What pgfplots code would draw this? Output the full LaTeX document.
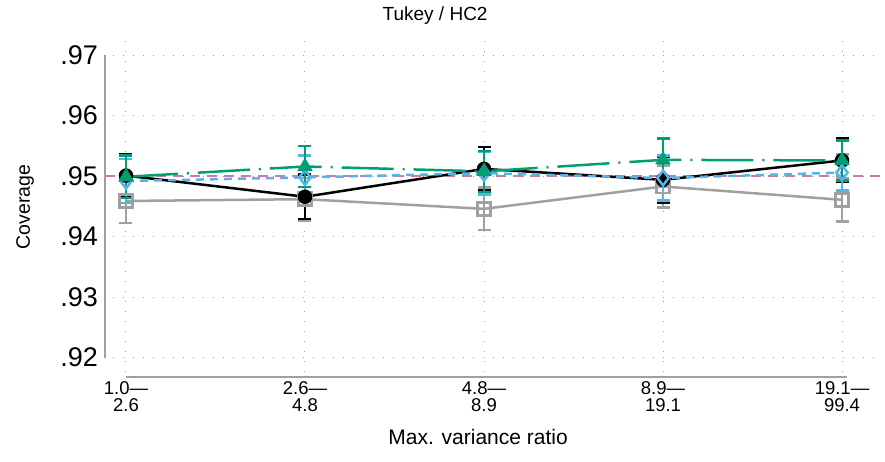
\documentclass[border=0pt]{standalone}
\usepackage{pgfplots}
\pgfplotsset{compat=1.18}
\usepackage{fontspec}
\setmainfont{Liberation Sans}
\definecolor{cgray}{HTML}{A0A0A0}
\definecolor{cgreen}{HTML}{009E73}
\definecolor{cblue}{HTML}{56B4E9}
\definecolor{cpink}{HTML}{CC79A7}
\begin{document}
\begin{tikzpicture}
\path[use as bounding box] (-113pt,-89pt) rectangle (772pt,372pt);
\begin{axis}[
  scale only axis, width=767pt, height=334pt,
  at={(0,0)}, anchor=south west,
  xmin=0.9274, xmax=5.2123, ymin=0.917636, ymax=0.97284,
  clip=false,
  axis line style={draw=none},
  tick style={draw=none},
  xtick={1,2,3,4,5},
  xticklabels={{1.0—\\2.6},{2.6—\\4.8},{4.8—\\8.9},{8.9—\\19.1},{19.1—\\99.4}},
  xticklabel style={align=center, anchor=north, inner sep=0pt, yshift=-9pt, font=\fontsize{18.5}{17}\selectfont},
  ytick={0.92,0.93,0.94,0.95,0.96,0.97},
  yticklabels={.92,.93,.94,.95,.96,.97},
  yticklabel style={anchor=east, inner sep=0pt, xshift=-15pt, font=\fontsize{27}{27}\selectfont},
  grid=major,
  grid style={cgray, line width=1pt, dash pattern=on 1pt off 9pt},
  title={Tukey / HC2},
  title style={at={(axis description cs:0.42,1.055)}, anchor=base, yshift=-7pt, font=\fontsize{19}{19}\selectfont},
  ylabel={Coverage},
  ylabel style={at={(axis description cs:-0.1147,0.494)}, anchor=center, rotate=0, font=\fontsize{19.5}{19.5}\selectfont},
  xlabel={Max. variance ratio},
  xlabel style={at={(axis description cs:0.476,-0.1946)}, anchor=center, font=\fontsize{21}{21}\selectfont},
  error bars/y dir=both, error bars/y explicit,
]
% axis lines
\draw[cgray, line width=2.5pt] ([xshift=-8pt]axis cs:0.9274,0.92) -- ([xshift=-8pt]axis cs:0.9274,0.97);
\draw[cgray, line width=2.5pt] (axis cs:1,0.916809) -- (axis cs:5.03,0.916809);
% reference line
\addplot[cpink, line width=2pt, dash pattern=on 10pt off 7pt, no markers, forget plot]
  coordinates {(0.8827,0.95) (5.2123,0.95)};
% gray
\addplot[cgray, line width=2.5pt, mark=square, mark size=6.5pt, mark options={solid, line width=2.5pt},
  error bars/.cd, error bar style={line width=2.5pt, solid}, error mark options={rotate=90, mark size=6.5pt, line width=2.5pt}]
  coordinates {(1,0.9459) +- (0,0.0036) (2,0.9462) +- (0,0.0035) (3,0.9446) +- (0,0.0035) (4,0.9483) +- (0,0.0035) (5,0.9461) +- (0,0.0036)};
% black
\addplot[black, line width=2.5pt, mark=*, mark size=6pt, mark options={solid},
  error bars/.cd, error bar style={line width=2.5pt, solid}, error mark options={rotate=90, mark size=6.5pt, line width=2.5pt}]
  coordinates {(1,0.9501) +- (0,0.0035) (2,0.9466) +- (0,0.0037) (3,0.9512) +- (0,0.0036) (4,0.9494) +- (0,0.0038) (5,0.9526) +- (0,0.0036)};
% blue
\addplot[cblue, line width=2.5pt, dash pattern=on 8pt off 6pt, mark=diamond, mark size=7.5pt, mark options={solid, line width=2.5pt},
  error bars/.cd, error bar style={line width=2.5pt, solid}, error mark options={rotate=90, mark size=6.5pt, line width=2.5pt}]
  coordinates {(1,0.9492) +- (0,0.0036) (2,0.9498) +- (0,0.0036) (3,0.9505) +- (0,0.0035) (4,0.9497) +- (0,0.0037) (5,0.9506) +- (0,0.0030)};
% green
\addplot[cgreen, line width=2.5pt, dash pattern=on 52pt off 9pt on 2pt off 9pt, mark=triangle*, mark size=6.5pt, mark options={solid},
  error bars/.cd, error bar style={line width=2.5pt, solid}, error mark options={rotate=90, mark size=6.5pt, line width=2.5pt}]
  coordinates {(1,0.9499) +- (0,0.0035) (2,0.9516) +- (0,0.0034) (3,0.9508) +- (0,0.0034) (4,0.9527) +- (0,0.0035) (5,0.9526) +- (0,0.0033)};
\end{axis}
\end{tikzpicture}
\end{document}
